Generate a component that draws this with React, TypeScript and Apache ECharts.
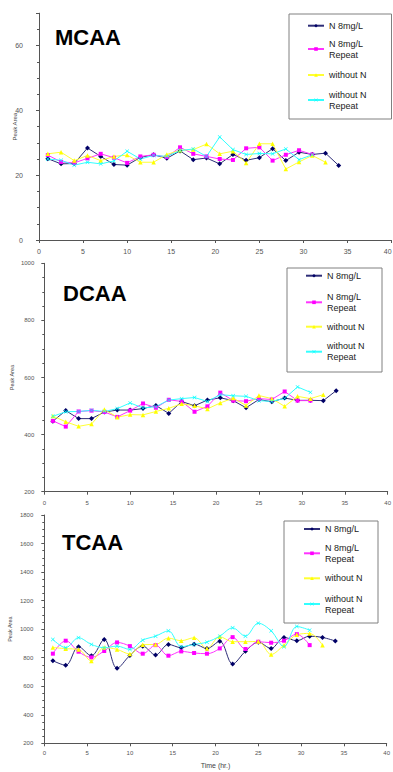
import React, { useEffect, useRef } from 'react';
import * as echarts from 'echarts';

// ---------- data ----------
const times = [1, 2.5, 4, 5.5, 7, 8.5, 10, 11.5, 13, 14.5, 16, 17.5, 19, 20.5, 22, 23.5, 25, 26.5, 28, 29.5, 31, 32.5, 34];
const seriesNames = ['N 8mg/L', 'N 8mg/L Repeat', 'without N', 'without N Repeat'];
const panelTitles = ['MCAA', 'DCAA', 'TCAA'];
const xAxisTitle = 'Time (hr.)';
const yAxisTitle = 'Peak Area';

const mcaaN8 = [25.1, 23.5, 23.6, 28.4, 25.8, 23.3, 23.1, 25.5, 26.3, 25.2, 27.5, 24.8, 25.3, 23.5, 26.4, 24.6, 25.4, 28.2, 24.5, 27.1, 26.4, 26.8, 23.0];
const mcaaN8Repeat = [26.2, 24.1, 23.8, 25.2, 26.6, 25.4, 23.8, 25.8, 26.3, 25.6, 28.6, 26.6, 25.8, 25.0, 24.7, 28.3, 28.6, 24.5, 26.3, 27.7, 26.4];
const mcaaWithoutN = [26.6, 27.1, 24.5, 26.1, 24.5, 25.8, 26.2, 24.0, 24.0, 26.4, 27.7, 27.9, 29.6, 26.6, 27.4, 23.8, 29.7, 29.7, 21.9, 24.1, 26.1, 24.0];
const mcaaWithoutNRepeat = [25.0, 24.6, 23.1, 24.0, 23.5, 24.4, 27.4, 25.0, 26.1, 25.8, 27.6, 28.1, 25.8, 31.8, 27.9, 26.4, 26.7, 26.6, 28.1, 24.8, 26.3];

const dcaaN8 = [447, 484, 456, 456, 479, 486, 486, 491, 502, 474, 516, 501, 521, 529, 519, 494, 523, 515, 528, 520, 520, 519, 554];
const dcaaN8Repeat = [448, 428, 481, 484, 479, 462, 484, 509, 494, 522, 516, 480, 499, 547, 519, 517, 526, 523, 551, 519, 519];
const dcaaWithoutN = [465, 445, 429, 437, 488, 461, 470, 469, 481, 492, 508, 501, 490, 511, 528, 502, 537, 526, 499, 534, 526, 540];
const dcaaWithoutNRepeat = [464, 480, 481, 485, 481, 491, 511, 493, 498, 521, 526, 530, 516, 540, 536, 534, 519, 516, 527, 567, 548];

const tcaaN8 = [779, 747, 877, 814, 928, 726, 816, 881, 819, 893, 870, 895, 865, 915, 756, 845, 908, 865, 942, 919, 951, 942, 917];
const tcaaN8Repeat = [828, 919, 842, 802, 847, 907, 881, 828, 888, 814, 844, 833, 828, 865, 944, 861, 912, 905, 919, 965, 888];
const tcaaWithoutN = [872, 863, 858, 777, 872, 858, 826, 891, 893, 937, 919, 940, 865, 947, 912, 912, 914, 823, 888, 960, 970, 888];
const tcaaWithoutNRepeat = [928, 870, 940, 893, 870, 881, 858, 923, 951, 988, 877, 893, 909, 951, 1009, 951, 1042, 988, 877, 1019, 993];

const panelData = [
  [mcaaN8, mcaaN8Repeat, mcaaWithoutN, mcaaWithoutNRepeat],
  [dcaaN8, dcaaN8Repeat, dcaaWithoutN, dcaaWithoutNRepeat],
  [tcaaN8, tcaaN8Repeat, tcaaWithoutN, tcaaWithoutNRepeat],
];
const yRanges = [
  { min: 0, max: 70, interval: 20 },
  { min: 200, max: 1000, interval: 200 },
  { min: 200, max: 1800, interval: 200 },
];
const xRange = { min: 0, max: 40, interval: 5 };

// ---------- layout / style ----------
const FONT = '"Liberation Sans", Arial, sans-serif';
const grids = [
  { left: 39, top: 13.2, width: 352.6, height: 226.8 },
  { left: 44.3, top: 263.3, width: 343.4, height: 228.4 },
  { left: 44.3, top: 515, width: 342.4, height: 228.3 },
];
const tickFont = [7, 6, 6];
const yLabelMargin = [16, 10, 11];
const xLabelMargin = [8, 8, 7];
const yNameGap = [21, 29, 31];
const smoothPanel = [false, false, 0.35];
const titlePos = [
  { left: 55, top: 26 },
  { left: 63, top: 282.3 },
  { left: 62, top: 531.5 },
];
const legendBoxes = [
  { x: 289, y: 14, w: 102.5, h: 105 },
  { x: 287, y: 268, w: 95, h: 104 },
  { x: 284, y: 521, w: 94, h: 102 },
];
const legendLeft = [307, 305, 303];
const legendCenters = [
  [25.7, 49, 75, 100],
  [275.7, 302.3, 326.7, 351.7],
  [529, 553.3, 578.3, 604],
];
const LH = 11;

const xSymbol = 'path://M0,1L1,0L5,4L9,0L10,1L6,5L10,9L9,10L5,6L1,10L0,9L4,5Z';
const seriesStyles = [
  { symbol: 'diamond', size: 5, color: '#000066', line: '#2e2e78' },
  { symbol: 'rect', size: 4, color: '#ff00ff', line: '#ff33ff' },
  { symbol: 'triangle', size: 4.5, color: '#ffff00', line: '#ffff33' },
  { symbol: xSymbol, size: 4, color: '#00ffff', line: '#33ffff' },
];

function buildOption() {
  const axisColor = '#555555';
  const labelColor = '#555555';
  const xAxis: any[] = [];
  const yAxis: any[] = [];
  const series: any[] = [];
  const title: any[] = [];
  const legend: any[] = [];
  const graphic: any[] = [];

  grids.forEach((g, p) => {
    xAxis.push({
      gridIndex: p,
      type: 'value',
      min: xRange.min,
      max: xRange.max,
      interval: xRange.interval,
      name: p === 2 ? xAxisTitle : '',
      nameLocation: 'middle',
      nameGap: 19,
      nameMoveOverlap: false,
      nameTextStyle: { fontSize: 7, color: '#444', fontFamily: FONT },
      axisLine: { show: true, onZero: false, lineStyle: { color: axisColor, width: 1 } },
      axisTick: { show: true, length: 3, lineStyle: { color: axisColor } },
      axisLabel: {
        fontSize: tickFont[p],
        color: labelColor,
        margin: xLabelMargin[p],
        fontFamily: FONT,
        alignMaxLabel: p === 0 ? 'right' : 'center',
        formatter: (v: number) => String(v),
      },
      splitLine: { show: false },
    });
    yAxis.push({
      gridIndex: p,
      type: 'value',
      min: yRanges[p].min,
      max: yRanges[p].max,
      interval: yRanges[p].interval,
      name: yAxisTitle,
      nameLocation: 'middle',
      nameRotate: 90,
      nameGap: yNameGap[p],
      nameMoveOverlap: false,
      nameTextStyle: { fontSize: p === 0 ? 6 : 5.5, color: '#444', fontFamily: FONT },
      axisLine: { show: true, onZero: false, lineStyle: { color: axisColor, width: 1 } },
      axisTick: { show: true, length: 3, lineStyle: { color: axisColor } },
      minorTick: { show: true, splitNumber: 4, length: 2, lineStyle: { color: axisColor } },
      axisLabel: {
        fontSize: tickFont[p],
        color: labelColor,
        margin: yLabelMargin[p],
        showMaxLabel: p !== 0,
        fontFamily: FONT,
        formatter: (v: number) => String(v),
      },
      splitLine: { show: false },
      minorSplitLine: { show: false },
    });
    panelData[p].forEach((vals, s) => {
      const st = seriesStyles[s];
      series.push({
        type: 'line',
        name: seriesNames[s],
        xAxisIndex: p,
        yAxisIndex: p,
        data: vals.map((v, i) => [times[i], v]),
        smooth: smoothPanel[p],
        symbol: st.symbol,
        symbolSize: st.size,
        showSymbol: true,
        lineStyle: { color: st.line, width: 1 },
        itemStyle: { color: st.color },
        emphasis: { disabled: true },
      });
    });
    title.push({
      text: panelTitles[p],
      left: titlePos[p].left,
      top: titlePos[p].top,
      padding: 0,
      textStyle: { fontSize: 22, fontWeight: 'bold', color: '#000', fontFamily: FONT },
    });
    const b = legendBoxes[p];
    graphic.push({
      type: 'rect',
      shape: { x: b.x, y: b.y, width: b.w, height: b.h },
      style: { fill: '#fff', stroke: '#808080', lineWidth: 1 },
      z: 0,
    });
    seriesNames.forEach((name, s) => {
      const twoLine = name.indexOf(' Repeat') >= 0;
      const c = legendCenters[p][s];
      legend.push({
        show: true,
        left: legendLeft[p],
        top: twoLine ? c - LH * 1.5 : c - LH / 2,
        padding: 0,
        orient: 'vertical',
        itemWidth: 16,
        itemHeight: 4.5,
        selectedMode: false,
        data: [name],
        formatter: (n: string) => n.replace(' Repeat', '\nRepeat'),
        textStyle: {
          fontSize: 9,
          lineHeight: LH,
          color: '#222',
          fontFamily: FONT,
          padding: twoLine ? [LH, 0, 0, 0] : 0,
        },
        z: 5,
      });
    });
  });

  return {
    animation: false,
    backgroundColor: '#ffffff',
    textStyle: { fontFamily: FONT },
    grid: grids.map((g) => ({ ...g, containLabel: false, outerBoundsMode: 'none' })),
    xAxis,
    yAxis,
    series,
    title,
    legend,
    graphic,
  };
}

export default function App() {
  const ref = useRef<HTMLDivElement>(null);
  useEffect(() => {
    if (!ref.current) return;
    const chart = echarts.init(ref.current, null, { renderer: 'svg' });
    chart.setOption(buildOption() as any);
    return () => chart.dispose();
  }, []);
  return (
    <div
      ref={ref}
      style={{ position: 'absolute', left: 0, top: 0, width: 393, height: 772, background: '#fff' }}
    />
  );
}
